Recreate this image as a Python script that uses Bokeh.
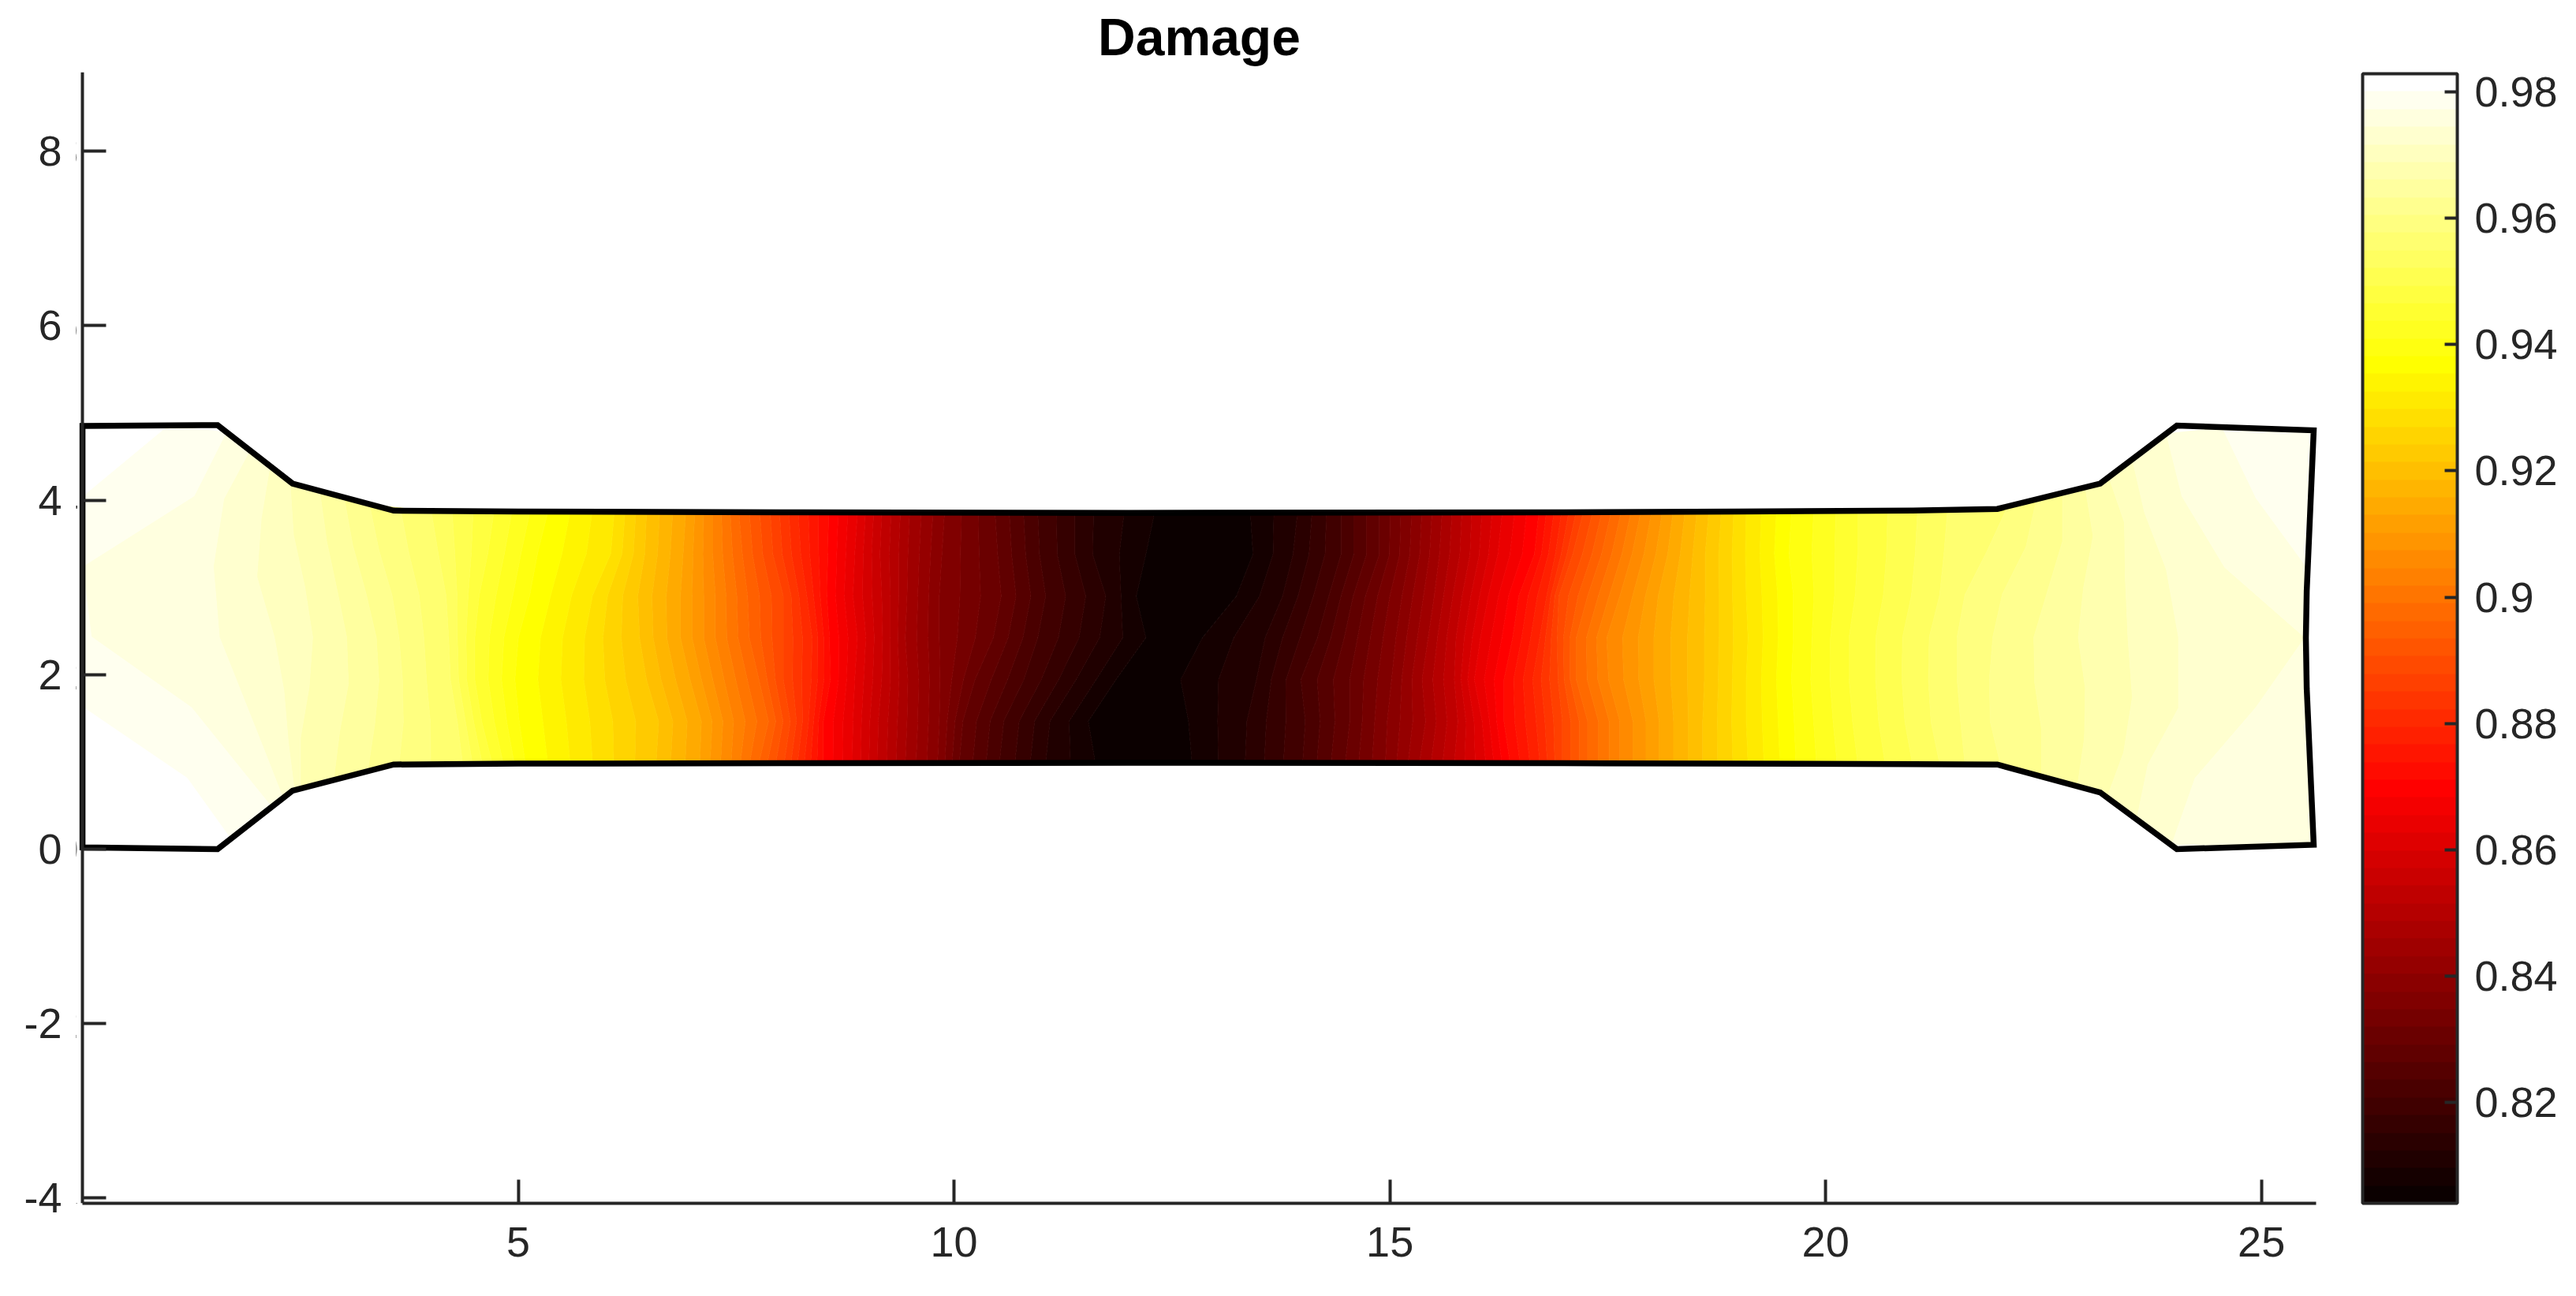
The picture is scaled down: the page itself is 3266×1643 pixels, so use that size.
from bokeh.embed import file_html
from bokeh.models import ColorBar, FixedTicker, LinearAxis, LinearColorMapper, NumeralTickFormatter
from bokeh.plotting import figure
from bokeh.resources import INLINE
import numpy as np

x_ticks = [5, 10, 15, 20, 25]
y_ticks = [-4, -2, 0, 2, 4, 6, 8]
y_tick_labels = {-4: "-4", -2: "-2", 0: "0", 2: "2", 4: "4", 6: "6", 8: "8"}
bar_ticks = [0.82, 0.84, 0.86, 0.88, 0.9, 0.92, 0.94, 0.96, 0.98]

damage_low = 0.8040
damage_high = 0.9829
n_bands = 64

# specimen outline
top_x = [0, 1.55, 2.41, 3.57, 5, 8, 12, 17, 19, 21, 21.97, 23.15, 24.03, 25.6]
top_y = [4.85, 4.86, 4.19, 3.88, 3.87, 3.86, 3.855, 3.86, 3.87, 3.88, 3.90, 4.19, 4.855, 4.80]
bottom_x = [0, 1.55, 2.41, 3.57, 5, 8, 12, 17, 21, 21.97, 23.15, 24.03, 25.6]
bottom_y = [0.02, 0.0, 0.67, 0.97, 0.98, 0.985, 0.99, 0.985, 0.975, 0.97, 0.65, 0.0, 0.05]
right_x = [25.6, 25.52, 25.51, 25.52, 25.6]
right_y = [0.05, 1.84, 2.42, 2.96, 4.80]

# where each damage level crosses seven lines running along the specimen,
# bottom edge to top edge. iso_bands is the level in colormap band numbers
iso_bands = [
    63.6, 63, 62, 61, 60, 59, 58, 57, 56, 54, 51, 48, 45, 42, 39, 36, 33, 30, 27, 24, 21, 18, 15, 12, 9, 6, 3, 1,
    0.3,
    1, 3, 6, 9, 12, 15, 18, 21, 24, 27, 30, 33, 36, 39, 42, 45, 48, 51, 54, 55, 56, 57, 58, 59, 60, 61, 62, 62.6,
]
iso_x = [
    [0.00, 0.00, 0.00, 0.00, 0.00, 0.00, 0.00],
    [1.70, 1.20, 0.00, 0.00, 0.00, 0.00, 0.98],
    [2.17, 1.80, 1.25, 0.10, 0.00, 1.28, 1.65],
    [2.30, 2.10, 1.86, 1.57, 1.50, 1.62, 1.92],
    [2.43, 2.36, 2.31, 2.20, 2.00, 2.05, 2.15],
    [2.50, 2.50, 2.60, 2.64, 2.55, 2.42, 2.38],
    [2.88, 2.95, 3.05, 3.03, 2.92, 2.80, 2.72],
    [3.27, 3.35, 3.40, 3.37, 3.25, 3.10, 3.00],
    [3.63, 3.68, 3.67, 3.63, 3.55, 3.40, 3.29],
    [4.36, 4.30, 4.22, 4.20, 4.17, 4.08, 4.00],
    [4.70, 4.58, 4.50, 4.50, 4.55, 4.65, 4.72],
    [5.08, 5.01, 4.96, 5.00, 5.13, 5.22, 5.34],
    [5.85, 5.82, 5.75, 5.76, 5.85, 6.06, 6.10],
    [6.58, 6.61, 6.47, 6.39, 6.37, 6.45, 6.47],
    [7.08, 7.10, 6.97, 6.86, 6.86, 6.89, 6.92],
    [7.44, 7.47, 7.36, 7.26, 7.26, 7.23, 7.23],
    [7.76, 7.87, 7.76, 7.65, 7.63, 7.57, 7.53],
    [8.05, 8.12, 8.04, 8.04, 8.04, 7.92, 7.89],
    [8.28, 8.33, 8.36, 8.37, 8.31, 8.24, 8.21],
    [8.50, 8.50, 8.58, 8.57, 8.54, 8.55, 8.56],
    [8.83, 8.84, 8.86, 8.89, 8.84, 8.86, 8.89],
    [9.12, 9.13, 9.17, 9.18, 9.17, 9.15, 9.17],
    [9.44, 9.46, 9.47, 9.44, 9.46, 9.47, 9.49],
    [9.81, 9.83, 9.84, 9.83, 9.83, 9.86, 9.89],
    [10.06, 10.10, 10.24, 10.45, 10.54, 10.50, 10.47],
    [10.52, 10.57, 10.80, 10.96, 11.05, 10.98, 10.96],
    [11.05, 11.10, 11.40, 11.67, 11.74, 11.59, 11.60],
    [11.62, 11.54, 11.86, 12.20, 12.09, 12.20, 12.30],
    [12.20, 12.10, 12.25, 12.50, 12.65, 12.80, 12.85],
    [12.73, 12.69, 12.60, 12.85, 13.24, 13.43, 13.40],
    [13.34, 13.36, 13.47, 13.57, 13.77, 13.89, 13.94],
    [14.00, 14.03, 13.98, 14.17, 14.30, 14.44, 14.44],
    [14.49, 14.54, 14.54, 14.63, 14.72, 14.88, 14.88],
    [14.95, 14.97, 15.02, 15.07, 15.14, 15.23, 15.25],
    [15.34, 15.41, 15.37, 15.44, 15.51, 15.57, 15.60],
    [15.74, 15.78, 15.74, 15.76, 15.83, 15.92, 15.94],
    [16.10, 16.06, 15.97, 16.04, 16.13, 16.24, 16.29],
    [16.38, 16.31, 16.31, 16.41, 16.48, 16.66, 16.71],
    [16.72, 16.68, 16.64, 16.72, 16.80, 16.90, 16.97],
    [16.98, 16.98, 16.93, 16.92, 16.94, 17.10, 17.22],
    [17.27, 17.27, 17.14, 17.14, 17.27, 17.43, 17.54],
    [17.64, 17.64, 17.51, 17.49, 17.64, 17.78, 17.88],
    [18.09, 18.09, 18.03, 18.03, 18.08, 18.19, 18.25],
    [18.59, 18.59, 18.61, 18.61, 18.62, 18.62, 18.66],
    [19.11, 19.09, 19.09, 19.11, 19.09, 19.08, 19.09],
    [19.66, 19.64, 19.61, 19.63, 19.63, 19.58, 19.61],
    [20.37, 20.31, 20.27, 20.27, 20.34, 20.37, 20.37],
    [21.31, 21.21, 21.18, 21.19, 21.31, 21.36, 21.40],
    [21.60, 21.55, 21.51, 21.51, 21.60, 21.85, 22.09],
    [22.01, 21.89, 21.88, 21.92, 22.03, 22.30, 22.42],
    [22.48, 22.48, 22.40, 22.39, 22.55, 22.72, 22.72],
    [22.89, 22.97, 22.98, 22.90, 22.96, 23.07, 22.98],
    [23.23, 23.42, 23.52, 23.47, 23.44, 23.43, 23.25],
    [23.57, 23.70, 24.05, 24.05, 23.91, 23.66, 23.52],
    [23.97, 24.24, 24.94, 25.50, 24.58, 24.09, 23.91],
    [25.60, 25.55, 25.51, 25.51, 25.53, 24.94, 24.55],
    [25.60, 25.55, 25.51, 25.51, 25.53, 25.56, 25.60],
]
line_fractions = [0, 1 / 6, 2 / 6, 3 / 6, 4 / 6, 5 / 6, 1]


def hot_palette(n):
    # matlab hot(64)
    colors = []
    for i in range(1, n + 1):
        r = min(i / 24, 1)
        g = min(max((i - 24) / 24, 0), 1)
        b = min(max((i - 48) / 16, 0), 1)
        colors.append("#%02x%02x%02x" % (round(r * 255), round(g * 255), round(b * 255)))
    return colors


palette = hot_palette(n_bands)
step = (damage_high - damage_low) / n_bands
levels = [damage_low + k * step for k in range(n_bands + 1)]

# mesh whose columns are the iso lines
mesh_x = np.array(iso_x).T
fractions = np.array(line_fractions)[:, None]
mesh_bottom = np.interp(mesh_x, bottom_x, bottom_y)
mesh_top = np.interp(mesh_x, top_x, top_y)
mesh_y = mesh_bottom + fractions * (mesh_top - mesh_bottom)
mesh_z = damage_low + np.tile(iso_bands, (len(line_fractions), 1)) * step

p = figure(
    width=3250,
    height=1627,
    x_range=(-0.0733, 25.70),
    y_range=(-4.06, 8.906),
    output_backend="svg",
    toolbar_location=None,
    background_fill_color="white",
    border_fill_color="white",
    min_border_left=96,
    min_border_right=306,
    min_border_top=91,
    min_border_bottom=102,
)

p.contour(
    mesh_x,
    mesh_y,
    mesh_z,
    levels,
    fill_color=palette,
    line_color=palette + [palette[-1]],
    line_width=1,
)

outline_x = top_x + right_x[::-1][1:] + bottom_x[::-1]
outline_y = top_y + right_y[::-1][1:] + bottom_y[::-1]
p.patch(outline_x, outline_y, fill_color=None, line_color="black", line_width=7.5, line_join="miter")

p.title.text = "Damage"
p.title.align = "center"
p.title.text_font = "Liberation Sans"
p.title.text_font_size = "66px"
p.title.text_font_style = "bold"
p.title.text_color = "black"
p.title.standoff = 15

p.grid.visible = False
p.outline_line_color = None

for axis in [p.xaxis[0], p.yaxis[0]]:
    axis.axis_line_color = "#262626"
    axis.axis_line_width = 4
    axis.major_tick_line_color = "#262626"
    axis.major_tick_line_width = 4
    axis.major_tick_in = 30
    axis.major_tick_out = 0
    axis.minor_tick_line_color = None
    axis.major_label_text_font = "Liberation Sans"
    axis.major_label_text_font_size = "54px"
    axis.major_label_text_color = "#262626"

p.xaxis.ticker = FixedTicker(ticks=x_ticks)
p.xaxis.bounds = (0, 25.63)
p.xaxis.major_label_standoff = 30
p.yaxis.ticker = FixedTicker(ticks=y_ticks)
p.yaxis.bounds = (-4.06, 8.906)
p.yaxis.fixed_location = 0

# the axis pinned to x=0 draws no labels, so they come from a plain one
y_labels = LinearAxis(
    ticker=FixedTicker(ticks=y_ticks),
    major_label_overrides=y_tick_labels,
    axis_line_color=None,
    major_tick_line_color=None,
    minor_tick_line_color=None,
    major_tick_in=0,
    major_tick_out=0,
    major_label_standoff=18,
    major_label_text_font="Liberation Sans",
    major_label_text_font_size="54px",
    major_label_text_color="#262626",
)
p.add_layout(y_labels, "left")

mapper = LinearColorMapper(palette=palette, low=damage_low, high=damage_high)
bar = ColorBar(
    color_mapper=mapper,
    ticker=FixedTicker(ticks=bar_ticks),
    formatter=NumeralTickFormatter(format="0.0[0]"),
    location=(51, 0),
    width=120,
    height=1432,
    padding=0,
    margin=0,
    major_tick_in=16,
    major_tick_out=0,
    major_tick_line_color="#262626",
    major_tick_line_width=4,
    minor_tick_line_color=None,
    bar_line_color="#262626",
    bar_line_width=4,
    border_line_color=None,
    background_fill_color=None,
    label_standoff=22,
    major_label_text_font="Liberation Sans",
    major_label_text_font_size="54px",
    major_label_text_color="#262626",
)
p.add_layout(bar, "right")

open("out.html", "w").write(file_html(p, INLINE))
